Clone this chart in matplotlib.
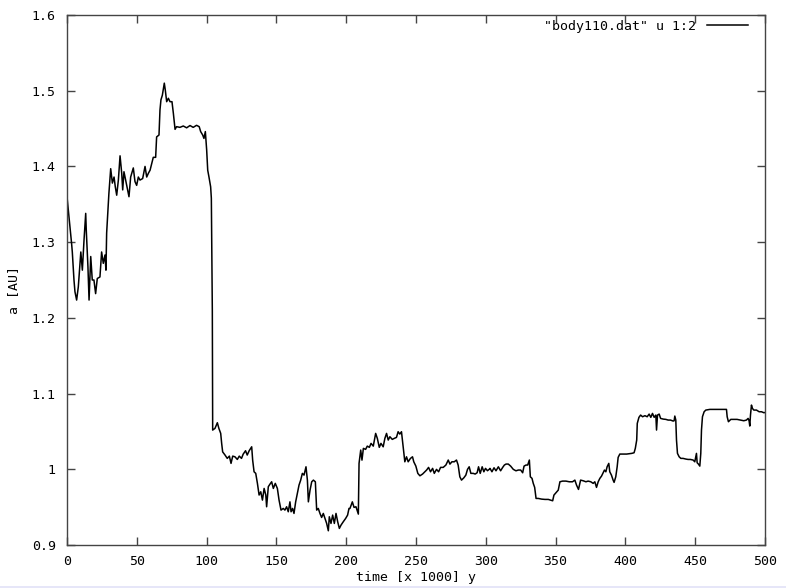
import matplotlib
matplotlib.use("Agg")
import matplotlib.pyplot as plt
from matplotlib.patches import Rectangle
from matplotlib.ticker import FuncFormatter

# time [x 1000 y]
t = [0, 2.15, 3.3, 3.8, 5.0, 5.7, 6.9, 8.1, 9.3, 9.9, 11.0, 12.2, 13.4, 13.8, 15.0, 15.8, 17.0, 18.1, 19.3, 20.5,
     21.7, 23.6, 24.8, 26.0, 27.2, 27.9, 28.4, 29.6, 30.0, 31.3, 32.5, 33.7, 34.6, 35.6, 36.8, 38.0, 39.2, 39.9, 40.8, 42.0,
     43.2, 44.4, 45.6, 47.5, 48.7, 49.9, 51.1, 52.3, 54.2, 55.9, 57.1, 58.3, 59.5, 60.7, 61.8, 63.5, 64.2, 65.9, 66.6, 67.3,
     68.3, 69.7, 70.4, 71.4, 72.6, 73.8, 75.2, 76.2, 77.4, 78.5, 80.9, 83.3, 85.7, 88.1, 90.4, 92.8, 94.7, 95.75, 97.2, 98.1,
     99.1, 100.05, 100.8, 101.7, 102.9, 103.4, 104.1, 104.35, 106.0, 107.7, 108.8, 110.1, 110.8, 111.5, 113.2, 114.8, 116.3, 117.5, 118.7, 120.3,
     122.0, 123.4, 125.0, 126.2, 127.9, 129.1, 130.5, 132.3, 133.0, 134.0, 135.2, 136.4, 137.6, 138.8, 140.0, 141.2, 142.4, 143.0, 144.2, 145.4,
     146.6, 147.8, 149.2, 150.7, 151.9, 153.3, 154.9, 156.1, 157.3, 158.5, 159.7, 160.5, 161.6, 162.6, 163.8, 165.0, 166.2, 167.4, 168.6, 169.8,
     171.2, 172.2, 172.9, 174.1, 175.3, 176.5, 177.9, 178.85, 180.0, 181.2, 182.4, 183.6, 184.8, 186.0, 187.2, 187.9, 189.1, 190.3, 191.5, 192.7,
     193.9, 195.1, 196.3, 197.9, 199.6, 201.0, 202.0, 202.7, 204.4, 205.6, 207.0, 208.7, 209.2, 210.4, 211.3, 212.3, 213.9, 215.1, 216.6, 217.8,
     219.4, 221.1, 222.3, 223.7, 224.9, 226.5, 227.7, 228.9, 230.1, 231.3, 233.0, 234.4, 236.0, 237.2, 238.4, 239.6, 240.8, 242.0, 243.2, 244.4,
     246.0, 247.5, 248.4, 249.9, 251.3, 252.8, 254.7, 256.4, 257.6, 259.0, 260.4, 261.9, 263.1, 264.7, 266.2, 267.6, 269.5, 271.4, 273.1, 274.3,
     275.7, 277.4, 279.0, 280.2, 281.4, 282.6, 284.3, 285.7, 286.9, 288.1, 289.3, 291.0, 292.4, 293.8, 294.8, 296.0, 297.4, 298.6, 299.8, 301.2,
     302.4, 303.0, 304.4, 305.9, 307.3, 309.0, 310.6, 312.1, 313.3, 314.5, 316.1, 317.8, 319.7, 321.6, 323.3, 325.0, 326.4, 327.4, 328.8, 330.0,
     331.2, 331.9, 333.1, 334.0, 335.0, 336.0, 337.6, 340.0, 342.4, 344.8, 346.4, 347.9, 348.8, 350.3, 351.9, 353.1, 355.0, 357.4, 359.8, 362.1,
     363.8, 365.0, 366.4, 367.9, 369.8, 371.7, 373.3, 375.2, 376.9, 378.1, 379.3, 380.5, 381.7, 382.9, 384.1, 385.0, 386.0, 386.9, 388.1, 388.8,
     390.0, 391.2, 391.9, 393.1, 394.1, 394.8, 396.0, 398.4, 400.9, 404.5, 406.2, 407.1, 408.1, 408.5, 409.7, 410.9, 412.3, 414.0, 415.6, 417.0,
     418.2, 419.4, 420.6, 421.8, 422.3, 423.0, 424.2, 425.2, 427.1, 429.0, 430.6, 432.3, 434.2, 434.9, 435.4, 436.1, 436.6, 437.3, 438.5, 439.7,
     441.3, 443.3, 444.9, 446.6, 448.5, 449.7, 450.4, 450.9, 451.4, 452.3, 453.3, 454.0, 454.5, 455.2, 456.4, 457.6, 460.5, 465.2, 470.0, 472.4,
     472.9, 473.8, 475.5, 477.6, 480.0, 482.4, 484.8, 486.7, 487.9, 488.6, 489.1, 489.6, 490.3, 491.0, 492.0, 493.9, 495.8, 497.5, 499.2, 500.0]

# semi-major axis a [AU]
a = [1.360, 1.320, 1.298, 1.287, 1.250, 1.2345, 1.2235, 1.241, 1.272, 1.287, 1.263, 1.303, 1.338, 1.316, 1.2675, 1.2235, 1.281, 1.250, 1.250, 1.232,
     1.252, 1.254, 1.287, 1.272, 1.283, 1.263, 1.312, 1.351, 1.364, 1.397, 1.378, 1.386, 1.373, 1.362, 1.382, 1.414, 1.391, 1.369, 1.393, 1.382,
     1.371, 1.360, 1.386, 1.398, 1.380, 1.375, 1.386, 1.382, 1.384, 1.400, 1.386, 1.391, 1.395, 1.404, 1.412, 1.412, 1.439, 1.4415, 1.4745, 1.488,
     1.494, 1.510, 1.501, 1.4855, 1.490, 1.4855, 1.4855, 1.470, 1.449, 1.4525, 1.4516, 1.4534, 1.451, 1.454, 1.4516, 1.4543, 1.4525, 1.446, 1.4415, 1.437,
     1.446, 1.4217, 1.395, 1.386, 1.373, 1.358, 1.210, 1.0518, 1.054, 1.0615, 1.054, 1.0474, 1.034, 1.023, 1.0188, 1.0144, 1.0174, 1.0078, 1.0174, 1.0165,
     1.013, 1.0174, 1.0144, 1.020, 1.0245, 1.0188, 1.0245, 1.0297, 1.012, 0.9967, 0.9946, 0.9814, 0.966, 0.9703, 0.9593, 0.9747, 0.966, 0.9505, 0.977, 0.9804,
     0.9835, 0.9747, 0.9814, 0.9747, 0.9593, 0.9461, 0.9483, 0.9461, 0.9505, 0.9439, 0.957, 0.9439, 0.9483, 0.9417, 0.957, 0.9681, 0.9791, 0.9857, 0.9946, 0.9923,
     1.0033, 0.9857, 0.957, 0.9725, 0.9835, 0.9857, 0.9835, 0.9461, 0.9483, 0.9417, 0.9364, 0.9417, 0.9351, 0.9285, 0.9188, 0.9373, 0.9285, 0.9395, 0.9285, 0.9417,
     0.9307, 0.9219, 0.9263, 0.9307, 0.9351, 0.9395, 0.9483, 0.9483, 0.957, 0.9497, 0.9505, 0.9408, 1.0078, 1.0254, 1.0121, 1.0276, 1.0263, 1.0306, 1.029, 1.0342,
     1.0306, 1.0474, 1.0408, 1.029, 1.0342, 1.0297, 1.0408, 1.0474, 1.0386, 1.043, 1.0395, 1.0408, 1.0421, 1.0496, 1.0465, 1.0496, 1.0297, 1.0099, 1.0165, 1.0099,
     1.0143, 1.0165, 1.0099, 1.0042, 0.9946, 0.9914, 0.9937, 0.9967, 0.999, 1.0025, 0.9967, 1.0012, 0.9946, 0.9999, 0.9967, 1.0025, 1.0025, 1.0056, 1.0122, 1.0068,
     1.0099, 1.0099, 1.0122, 1.0056, 0.9901, 0.9857, 0.9888, 0.9923, 0.9999, 1.0033, 0.9946, 0.9946, 0.9937, 0.9955, 1.0033, 0.9946, 1.0033, 0.9967, 1.0012, 0.9981,
     0.9999, 1.0012, 0.9967, 1.002, 0.998, 1.0033, 0.998, 1.0025, 1.0056, 1.0069, 1.0069, 1.0042, 0.9999, 0.998, 0.999, 0.999, 0.9954, 1.0042, 1.0056, 1.0056,
     1.0122, 0.9901, 0.988, 0.9814, 0.9761, 0.9615, 0.9615, 0.9606, 0.9602, 0.9602, 0.9593, 0.9584, 0.9659, 0.969, 0.9725, 0.9835, 0.9844, 0.9844, 0.9835, 0.9835,
     0.9857, 0.9791, 0.9734, 0.9857, 0.9848, 0.9835, 0.9844, 0.9835, 0.9814, 0.9835, 0.9761, 0.9835, 0.988, 0.991, 0.9954, 0.999, 0.9967, 1.0033, 1.0078, 0.9967,
     0.9923, 0.9857, 0.9827, 0.9901, 1.0033, 1.0157, 1.0201, 1.0201, 1.0201, 1.021, 1.0218, 1.0276, 1.0386, 1.0606, 1.0686, 1.0716, 1.0694, 1.0708, 1.0694, 1.0729,
     1.0686, 1.0738, 1.0686, 1.0716, 1.0518, 1.0716, 1.0729, 1.0672, 1.0663, 1.0659, 1.065, 1.065, 1.0637, 1.0641, 1.0703, 1.065, 1.0386, 1.021, 1.0165, 1.0144,
     1.0144, 1.0135, 1.013, 1.013, 1.0122, 1.0099, 1.0165, 1.021, 1.0086, 1.0069, 1.0042, 1.021, 1.0518, 1.0694, 1.076, 1.0782, 1.0791, 1.0791, 1.0791, 1.0791,
     1.0694, 1.0628, 1.0659, 1.0659, 1.0659, 1.065, 1.0641, 1.065, 1.0672, 1.0641, 1.0571, 1.0716, 1.0848, 1.0804, 1.0782, 1.0782, 1.076, 1.076, 1.0747, 1.075]

legend_label = '"body110.dat" u 1:2'
x_label = "time [x 1000] y"
y_label = "a [AU]"
x_ticks = [0, 50, 100, 150, 200, 250, 300, 350, 400, 450, 500]
y_ticks = [0.9, 1.0, 1.1, 1.2, 1.3, 1.4, 1.5, 1.6]

W, H = 786, 588
fig = plt.figure(figsize=(W / 100, H / 100), dpi=100)
fig.patch.set_facecolor("white")
ax = fig.add_axes([67 / W, (H - 545) / H, 698 / W, 530 / H])

mono = "DejaVu Sans Mono"
fs = 9.5

ax.plot(t, a, color="black", lw=1.1, label=legend_label)
ax.set_xlim(0, 500)
ax.set_ylim(0.9, 1.6)
ax.set_xticks(x_ticks)
ax.set_yticks(y_ticks)
ax.yaxis.set_major_formatter(FuncFormatter(lambda v, p: "%g" % round(v, 2)))
ax.tick_params(which="both", direction="in", length=6, width=1, color="#444444",
               top=True, right=True, labelsize=fs, labelcolor="black")
ax.tick_params(axis="x", pad=7.5)
ax.tick_params(axis="y", pad=8)
for lab in ax.get_xticklabels() + ax.get_yticklabels():
    lab.set_fontfamily(mono)
for s in ax.spines.values():
    s.set_color("#444444")
    s.set_linewidth(1.0)

fig.text(416 / W, 1 - 578 / H, x_label, ha="center", va="center", fontsize=fs, family=mono)
fig.text(14 / W, 1 - 290 / H, y_label, ha="center", va="center", fontsize=fs, family=mono, rotation=90)

leg = ax.legend(loc="upper right", bbox_to_anchor=((748 - 67) / 698, (545 - 20) / 530),
                frameon=False, markerfirst=False, prop={"family": mono, "size": fs},
                handlelength=3.1, handletextpad=0.85, borderpad=0, borderaxespad=0)

fig.patches.append(Rectangle((0, 0), 1, 2 / H, transform=fig.transFigure,
                             facecolor="#e6e6f8", edgecolor="none"))

fig.savefig("out.png", dpi=100)
